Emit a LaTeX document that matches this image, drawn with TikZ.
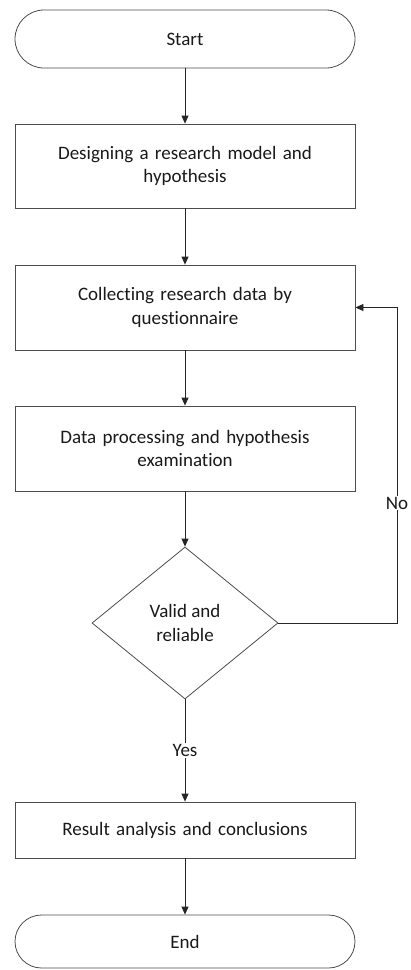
\documentclass[tikz,border=0pt]{standalone}
\usepackage{fontspec}
\setmainfont{Carlito}[Ligatures=NoCommon]
\usetikzlibrary{shapes.geometric,arrows.meta}
\begin{document}
\begin{tikzpicture}[x=1pt,y=-1pt,
  every node/.style={font=\fontsize{19}{23.5}\selectfont, text=black!90},
  flowline/.style={draw=black!85, line width=0.8pt},
  arrowline/.style={flowline, -{Triangle[width=7pt,length=8pt]}},
  terminal/.style={draw=black!70, line width=0.8pt, rectangle, minimum width=340pt, inner sep=0pt},
  procbox/.style={draw=black!70, line width=0.8pt, rectangle, minimum width=340pt, align=center, text width=320pt, inner sep=0pt},
  decision/.style={draw=black!70, line width=0.8pt, diamond, minimum width=186pt, minimum height=152pt, inner sep=0pt, align=center},
  edgelabel/.style={fill=white, inner sep=1pt}]
  \useasboundingbox (0,0) rectangle (410,970);

  \node[terminal, minimum height=58pt, rounded corners=29pt] (start) at (185,39) {Start};
  \node[procbox, minimum height=84pt] (design) at (185,166) {Designing a research model and\\hypothesis};
  \node[procbox, minimum height=85pt] (collect) at (185,307.5) {Collecting research data by\\questionnaire};
  \node[procbox, minimum height=85pt] (process) at (185,448.5) {Data processing and hypothesis\\examination};
  \node[decision] (check) at (185,623) {Valid and\\reliable};
  \node[procbox, minimum height=56pt] (result) at (185,830) {Result analysis and conclusions};
  \node[terminal, minimum height=53pt, rounded corners=26.5pt] (end) at (185,941.5) {End};

  \coordinate (loopdown) at (397,623);
  \coordinate (loopup) at (397,307.5);

  \draw[arrowline] (start) -- (design);
  \draw[arrowline] (design) -- (collect);
  \draw[arrowline] (collect) -- (process);
  \draw[arrowline] (process) -- (check);
  \draw[arrowline] (check) -- node[edgelabel, pos=0.5] {Yes} (result);
  \draw[arrowline] (result) -- (end);
  \draw[arrowline] (check.east) -- (loopdown) -- node[edgelabel, pos=0.38] {No} (loopup) -- (collect.east);
\end{tikzpicture}
\end{document}
